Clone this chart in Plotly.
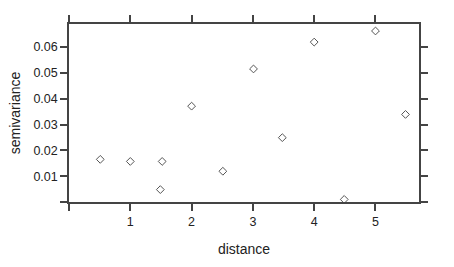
import plotly.graph_objects as go

distance = [0.51, 1.0, 1.52, 1.49, 2.0, 2.51, 3.01, 3.48, 4.0, 4.49, 5.0, 5.49]
semivariance = [0.0165, 0.0157, 0.0157, 0.0048, 0.0371, 0.0119, 0.0515, 0.0249, 0.0619, 0.0010, 0.0662, 0.0339]

x_ticks = [0, 1, 2, 3, 4, 5]
x_labels = ["", "1", "2", "3", "4", "5"]
y_ticks = [0, 0.01, 0.02, 0.03, 0.04, 0.05, 0.06]
y_labels = ["", "0.01", "0.02", "0.03", "0.04", "0.05", "0.06"]

fig = go.Figure()
fig.add_trace(go.Scatter(
    x=distance, y=semivariance, mode="markers",
    marker=dict(symbol="diamond-open", size=6, color="#555555", line=dict(width=1, color="#555555")),
    showlegend=False,
))

axis_common = dict(
    showline=True, linecolor="#444444", linewidth=1.5, mirror="ticks",
    ticks="outside", ticklen=7, tickwidth=1.5, tickcolor="#444444",
    showgrid=False, zeroline=False,
    tickfont=dict(family="Liberation Sans, Arial, sans-serif", size=12.5, color="#222222"),
)

fig.update_layout(
    width=454, height=267,
    margin=dict(l=69, r=35, t=24, b=64.5),
    paper_bgcolor="white", plot_bgcolor="white",
    xaxis=dict(range=[0, 5.71], tickvals=x_ticks, ticktext=x_labels,
               title=dict(text="distance", standoff=16,
                          font=dict(family="Liberation Sans, Arial, sans-serif", size=14, color="#222222")),
               **axis_common),
    yaxis=dict(range=[0, 0.0689], tickvals=y_ticks, ticktext=y_labels,
               title=dict(text="semivariance", standoff=10,
                          font=dict(family="Liberation Sans, Arial, sans-serif", size=14, color="#222222")),
               **axis_common),
)

fig.write_html("out.html")
